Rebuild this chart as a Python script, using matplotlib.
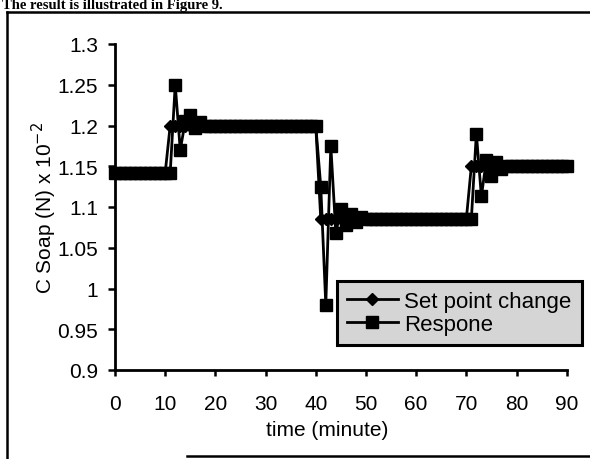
import matplotlib
matplotlib.use("Agg")
import matplotlib.pyplot as plt
from matplotlib.lines import Line2D

plt.rcParams['font.family'] = ['Liberation Sans', 'DejaVu Sans']

# ---- data ----
time_min = list(range(91))

set_point = [
    1.142, 1.142, 1.142, 1.142, 1.142, 1.142, 1.142, 1.142, 1.142, 1.142, 1.142,
    1.2, 1.2, 1.2, 1.2, 1.2, 1.2, 1.2, 1.2, 1.2, 1.2,
    1.2, 1.2, 1.2, 1.2, 1.2, 1.2, 1.2, 1.2, 1.2, 1.2,
    1.2, 1.2, 1.2, 1.2, 1.2, 1.2, 1.2, 1.2, 1.2, 1.2,
    1.085, 1.085, 1.085, 1.085, 1.085, 1.085, 1.085, 1.085, 1.085, 1.085,
    1.085, 1.085, 1.085, 1.085, 1.085, 1.085, 1.085, 1.085, 1.085, 1.085,
    1.085, 1.085, 1.085, 1.085, 1.085, 1.085, 1.085, 1.085, 1.085, 1.085,
    1.15, 1.15, 1.15, 1.15, 1.15, 1.15, 1.15, 1.15, 1.15, 1.15,
    1.15, 1.15, 1.15, 1.15, 1.15, 1.15, 1.15, 1.15, 1.15, 1.15,
]

response = [
    1.142, 1.142, 1.142, 1.142, 1.142, 1.142, 1.142, 1.142, 1.142, 1.142, 1.142, 1.142,
    1.25, 1.17, 1.205, 1.213, 1.197, 1.204,
    1.2, 1.2, 1.2, 1.2, 1.2, 1.2, 1.2, 1.2, 1.2, 1.2, 1.2, 1.2,
    1.2, 1.2, 1.2, 1.2, 1.2, 1.2, 1.2, 1.2, 1.2, 1.2, 1.2,
    1.125, 0.98, 1.175, 1.068, 1.097, 1.078, 1.092, 1.081, 1.088,
    1.085, 1.085, 1.085, 1.085, 1.085, 1.085, 1.085, 1.085, 1.085, 1.085, 1.085,
    1.085, 1.085, 1.085, 1.085, 1.085, 1.085, 1.085, 1.085, 1.085, 1.085, 1.085,
    1.19, 1.113, 1.158, 1.138, 1.155, 1.147,
    1.15, 1.15, 1.15, 1.15, 1.15, 1.15, 1.15, 1.15, 1.15, 1.15, 1.15, 1.15, 1.15,
]

x_ticks = [0, 10, 20, 30, 40, 50, 60, 70, 80, 90]
y_ticks = [0.9, 0.95, 1.0, 1.05, 1.1, 1.15, 1.2, 1.25, 1.3]
y_tick_labels = ['0.9', '0.95', '1', '1.05', '1.1', '1.15', '1.2', '1.25', '1.3']
series_names = ['Set point change', 'Respone']

# ---- figure ----
W, H = 590, 460
fig = plt.figure(figsize=(W / 100, H / 100), dpi=100)
fig.patch.set_facecolor('white')

L, R, T, B = 115, 566.7, 45, 371
ax = fig.add_axes([L / W, 1 - B / H, (R - L) / W, (B - T) / H])

ax.plot(time_min, set_point, color='black', lw=2, marker='D', ms=6,
        mfc='black', mec='black', clip_on=False, label=series_names[0], zorder=3)
ax.plot(time_min, response, color='black', lw=2, marker='s', ms=8.5,
        mfc='black', mec='black', clip_on=False, label=series_names[1], zorder=4)

ax.set_xlim(0, 90)
ax.set_ylim(0.9, 1.3)
ax.set_xticks(x_ticks)
ax.set_xticklabels([str(v) for v in x_ticks])
ax.set_yticks(y_ticks)
ax.set_yticklabels(y_tick_labels)

for s in ['top', 'right']:
    ax.spines[s].set_visible(False)
for s in ['left', 'bottom']:
    ax.spines[s].set_linewidth(2)
    ax.spines[s].set_color('black')

ax.tick_params(axis='x', direction='out', length=4.5, width=1.8, pad=13,
               labelsize=15, colors='black')
ax.tick_params(axis='y', direction='out', length=5, width=1.8, pad=7,
               labelsize=15, colors='black')

fig.text(44 / W, 1 - 208 / H, r'C Soap (N) x 10$^{-2}$', rotation=90,
         ha='center', va='center', fontsize=15)
fig.text(327.5 / W, 1 - 431 / H, 'time (minute)', ha='center', va='center',
         fontsize=15)

leg = ax.legend(loc='upper left', bbox_to_anchor=(336.7 / W, 1 - 281.7 / H),
                bbox_transform=fig.transFigure, borderaxespad=0, fontsize=16,
                numpoints=1, handlelength=2.3, handletextpad=0.3,
                labelspacing=0.1, borderpad=0.45, fancybox=False,
                framealpha=1, facecolor='#d5d5d5', edgecolor='black')
leg.get_frame().set_linewidth(2.2)

# page text at the top of the scan
fig.text(2 / W, 1 - 9 / H, 'The result is illustrated in Figure 9.',
         ha='left', va='baseline', fontsize=10.5, fontweight='bold',
         family=['Liberation Serif', 'DejaVu Serif'])

# frame lines of the scanned figure
frame_kw = dict(color='black', lw=1.8, transform=fig.transFigure)
fig.add_artist(Line2D([7 / W, 1], [1 - 13 / H, 1 - 13 / H], **frame_kw))
fig.add_artist(Line2D([7 / W, 7 / W], [1 - 13 / H, 0], **frame_kw))
fig.add_artist(Line2D([187 / W, 1], [1 - 457 / H, 1 - 457 / H], **frame_kw))

fig.savefig('out.png', dpi=100)
